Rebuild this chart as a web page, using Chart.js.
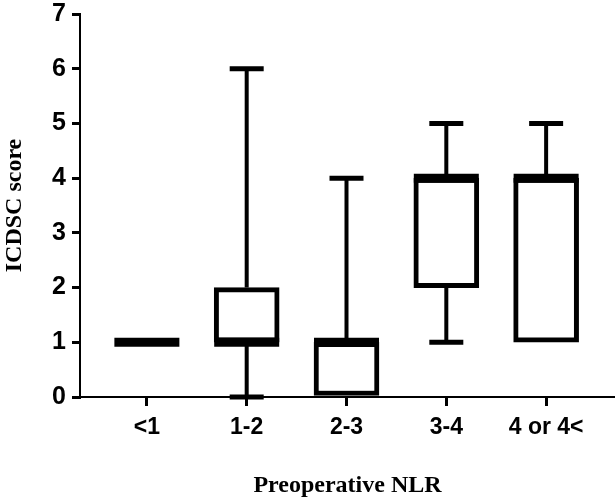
<!DOCTYPE html>
<html>
<head>
<meta charset="utf-8">
<script src="https://cdn.jsdelivr.net/npm/chart.js@4.4.1/dist/chart.umd.min.js"></script>
<style>
  html, body { margin: 0; padding: 0; background: #fff; }
  #wrap { width: 615px; height: 500px; }
</style>
</head>
<body>
<div id="wrap"><canvas id="c" width="615" height="500"></canvas></div>
<script>
// Data
const categories = ['<1', '1-2', '2-3', '3-4', '4 or 4<'];
const mins    = [1, 0, 0, 1, 1];
const q1s     = [1, 1, 0, 2, 1];
const medians = [1, 1, 1, 4, 4];
const q3s     = [1, 2, 1, 4, 4];
const maxs    = [1, 6, 4, 5, 5];
const yTicks  = [0, 1, 2, 3, 4, 5, 6, 7];

const BOX_W = 65;

const boxPlugin = {
  id: 'boxParts',
  beforeDatasetsDraw(chart) {
    const ctx = chart.ctx, x = chart.scales.x, y = chart.scales.y;
    ctx.save();
    ctx.strokeStyle = '#000';
    categories.forEach((c, i) => {
      const px = x.getPixelForValue(i);
      ctx.lineWidth = 4;
      ctx.beginPath();
      ctx.moveTo(px, y.getPixelForValue(q3s[i]));
      ctx.lineTo(px, y.getPixelForValue(maxs[i]));
      ctx.moveTo(px, y.getPixelForValue(mins[i]));
      ctx.lineTo(px, y.getPixelForValue(q1s[i]));
      ctx.stroke();
      ctx.lineWidth = 5;
      ctx.beginPath();
      if (maxs[i] !== q3s[i]) {
        ctx.moveTo(px - 17, y.getPixelForValue(maxs[i]));
        ctx.lineTo(px + 17, y.getPixelForValue(maxs[i]));
      }
      if (mins[i] !== q1s[i]) {
        ctx.moveTo(px - 17, y.getPixelForValue(mins[i]));
        ctx.lineTo(px + 17, y.getPixelForValue(mins[i]));
      }
      ctx.stroke();
    });
    ctx.restore();
  },
  afterDatasetsDraw(chart) {
    const ctx = chart.ctx, x = chart.scales.x, y = chart.scales.y;
    ctx.save();
    ctx.strokeStyle = '#000';
    ctx.lineWidth = 9;
    ctx.lineCap = 'butt';
    categories.forEach((c, i) => {
      const px = x.getPixelForValue(i);
      const py = y.getPixelForValue(medians[i]);
      ctx.beginPath();
      ctx.moveTo(px - BOX_W / 2, py);
      ctx.lineTo(px + BOX_W / 2, py);
      ctx.stroke();
    });
    ctx.restore();
  }
};

new Chart(document.getElementById('c'), {
  type: 'bar',
  data: {
    datasets: [{
      data: categories.map((c, i) => ({ x: i, y: [q1s[i], q3s[i]] })),
      backgroundColor: '#fff',
      borderColor: '#000',
      borderWidth: 5,
      borderSkipped: false,
      barThickness: BOX_W
    }]
  },
  options: {
    responsive: false,
    animation: false,
    layout: { padding: { top: 14, right: 0, left: 0, bottom: 0 } },
    plugins: { legend: { display: false }, tooltip: { enabled: false } },
    scales: {
      x: {
        type: 'linear',
        offset: false,
        min: -0.67,
        max: 4.69,
        afterBuildTicks(scale) { scale.ticks = categories.map((c, i) => ({ value: i })); },
        afterFit(scale) { scale.height = 103; scale.paddingRight = 0; scale.paddingLeft = 0; },
        ticks: {
          callback: (v) => categories[v],
          color: '#000',
          font: { family: 'Liberation Sans', size: 23, weight: 'bold' },
          padding: 8,
          maxRotation: 0,
          autoSkip: false
        },
        grid: { offset: false, drawOnChartArea: false, drawTicks: true, tickLength: 9, color: '#000', lineWidth: 3 },
        border: { display: true, color: '#000', width: 2 },
        title: {
          display: true,
          text: 'Preoperative NLR',
          color: '#000',
          font: { family: 'Liberation Serif', size: 24, weight: 'bold' },
          padding: { top: 22, bottom: 0 }
        }
      },
      y: {
        min: 0,
        max: 7,
        afterBuildTicks(scale) { scale.ticks = yTicks.map(v => ({ value: v })); },
        afterFit(scale) { scale.width = 80; scale.paddingTop = 0; scale.paddingBottom = 0; },
        ticks: {
          color: '#000',
          font: { family: 'Liberation Sans', size: 25, weight: 'bold' },
          padding: 6
        },
        grid: { drawOnChartArea: false, drawTicks: true, tickLength: 8, color: '#000', lineWidth: 3 },
        border: { display: true, color: '#000', width: 2 },
        title: {
          display: true,
          text: 'ICDSC score',
          color: '#000',
          font: { family: 'Liberation Serif', size: 24, weight: 'bold' },
          padding: { top: 0, bottom: 12 }
        }
      }
    }
  },
  plugins: [boxPlugin]
});
</script>
</body>
</html>
